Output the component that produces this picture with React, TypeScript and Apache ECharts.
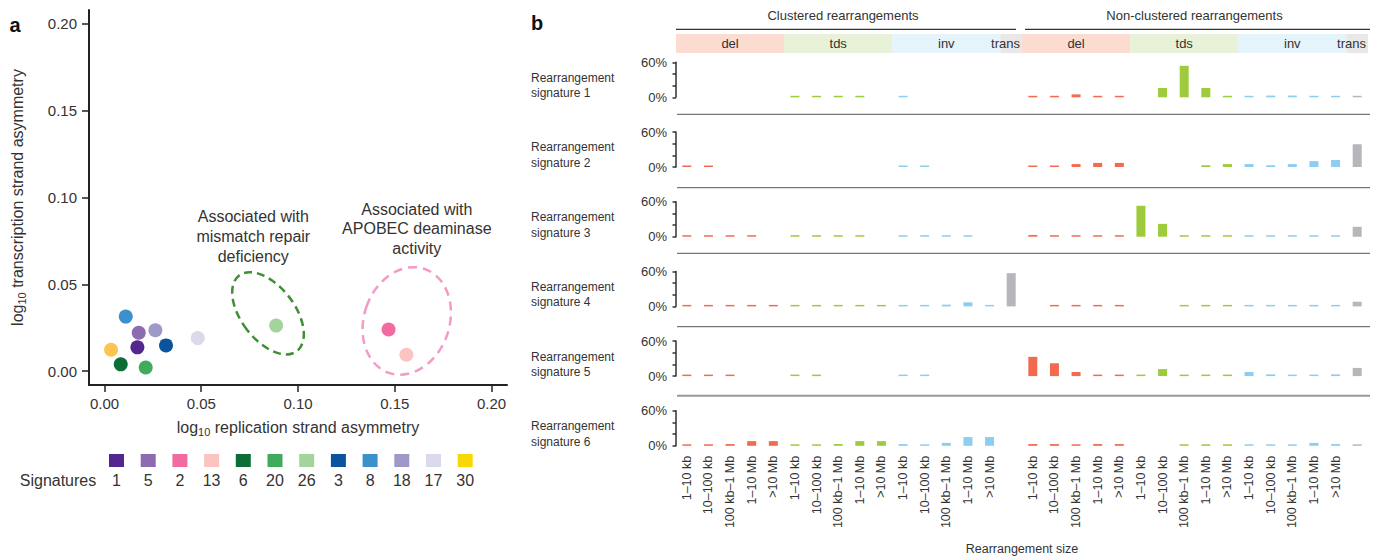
import { useEffect, useRef } from 'react';
import * as echarts from 'echarts';

const FONT = '"Liberation Sans", Arial, Helvetica, sans-serif';
const INK = '#333333';

// ---------------- Panel a: strand asymmetry scatter ----------------
const signatureNames = ['1', '5', '2', '13', '6', '20', '26', '3', '8', '18', '17', '30'];
const signatureColors = ['#54278f', '#8c6bb1', '#f06ba0', '#fbc4c0', '#0c6d36', '#41ab5d', '#a3d49c', '#0b539e', '#3a91cb', '#9e9ac8', '#dadaeb', '#f9d800'];
const pointSignatures = ['8', '5', '18', '30', '1', '3', '6', '20', '17', '26', '2', '13'];
const replicationAsymmetry = [0.011, 0.0177, 0.0263, 0.0034, 0.017, 0.0318, 0.0084, 0.0213, 0.0482, 0.0887, 0.1468, 0.156];
const transcriptionAsymmetry = [0.0314, 0.0221, 0.0235, 0.0123, 0.0137, 0.0148, 0.0039, 0.0021, 0.019, 0.0262, 0.024, 0.0094];
const pointColorOverrides: Record<string, string> = { '30': '#fec44f' };
const asymmetryTicks = [0, 0.05, 0.1, 0.15, 0.2];

const annotationTexts = ['Associated with\nmismatch repair\ndeficiency', 'Associated with\nAPOBEC deaminase\nactivity'];
const annotationAnchorX = [0.0769, 0.1614];
const annotationAnchorY = [0.0776, 0.082];
const ellipseCenterX = [0.0845, 0.1562];
const ellipseCenterY = [0.0333, 0.0289];

// ---------------- Panel b: rearrangement signatures ----------------
const sizeLabels = ['1–10 kb', '10–100 kb', '100 kb–1 Mb', '1–10 Mb', '>10 Mb'];
const classNames = ['del', 'tds', 'inv', 'trans'];
const clusterNames = ['Clustered rearrangements', 'Non-clustered rearrangements'];
const classColors = ['#f26b4f', '#9dcb3c', '#8dcdf0', '#b6b7ba'];
const bandColors = ['#fcdcd0', '#e8f2d8', '#e5f3fb', '#e8e8e8'];
const signatureRowNames = [
  'Rearrangement\nsignature 1',
  'Rearrangement\nsignature 2',
  'Rearrangement\nsignature 3',
  'Rearrangement\nsignature 4',
  'Rearrangement\nsignature 5',
  'Rearrangement\nsignature 6',
];
const percentTicks = [0, 60];

// values in % for 32 categories: clustered del(5) tds(5) inv(5) trans, non-clustered del(5) tds(5) inv(5) trans
const sig1 = [null, null, null, null, null, 1, 1, 1, 1, null, 1, null, null, null, null, null, 1, 1, 5, 1, 1, null, 16, 54, 16, 1, 1, 3, 3, 1, 1, 1];
const sig2 = [1, 1, null, null, null, null, null, null, null, null, 1, 1, null, null, null, null, 1, 1, 5, 7, 7, null, null, null, 3, 5, 5, 3, 5, 10, 12, 39];
const sig3 = [1, 1, 1, 1, null, 1, 1, 1, 1, null, 1, 1, 1, 1, null, null, 3, 1, 1, 1, 1, 53, 22, 1, 1, 1, 2, 1, 1, 1, 2, 17];
const sig4 = [1, 1, 2, 2, 1, 1, 1, 1, 2, 1, 2, 2, 3, 7, 1.5, 57, null, 1, 1, 1, 1, null, null, 1, 1, 1, 1, 1, 1, 1, 1, 8];
const sig5 = [1, 1, 1, null, null, 1, 1, null, null, null, 1, 1, null, null, null, null, 33, 22, 7, 1, 1, 1, 12, 1, 1, 1, 7, 3, 1, 1, 3, 14];
const sig6 = [1, 1, 3, 8, 8, 1, 1, 3, 8, 8, 3, 1, 5, 15, 15, null, 3, 3, 1.5, 3, 3, null, null, 1, 1, 1, 1, 1, 1, 5, 3, 1];
const signatureRows = [sig1, sig2, sig3, sig4, sig5, sig6];

// layout constants (pixels)
const ROW_TOP0 = 62.3;
const ROW_STEP = 69.7;
const ROW_H = 35;
const separatorYs = [114.3, 187.7, 253.3, 326.7, 395.7];

export default function App() {
  const ref = useRef<HTMLDivElement>(null);

  useEffect(() => {
    document.body.style.margin = '0';
    const chart = echarts.init(ref.current!, null, { renderer: 'svg' });

    // categories
    const categoryLabels: string[] = [];
    const categoryClass: number[] = [];
    const categoryCluster: number[] = [];
    for (let c = 0; c < 2; c++) {
      for (let t = 0; t < 3; t++) {
        for (let s = 0; s < sizeLabels.length; s++) {
          categoryLabels.push(sizeLabels[s]);
          categoryClass.push(t);
          categoryCluster.push(c);
        }
      }
      categoryLabels.push('');
      categoryClass.push(3);
      categoryCluster.push(c);
    }
    const categoryKeys = categoryLabels.map((_, i) => String(i));

    // band groups from categories
    const bandGroups: { start: number; end: number; cls: number }[] = [];
    categoryClass.forEach((cls, i) => {
      const last = bandGroups[bandGroups.length - 1];
      if (last && last.cls === cls && categoryCluster[last.start] === categoryCluster[i]) last.end = i;
      else bandGroups.push({ start: i, end: i, cls });
    });
    const clusterGroups = [0, 1].map((c) => {
      const idx = categoryCluster.map((v, i) => (v === c ? i : -1)).filter((i) => i >= 0);
      return [idx[0], idx[idx.length - 1]];
    });

    const richName = {
      n: { fontSize: 16, lineHeight: 20, color: INK, fontFamily: FONT },
      s: { fontSize: 11, lineHeight: 10, verticalAlign: 'bottom', color: INK, fontFamily: FONT },
    };

    const grids: any[] = [{ left: 89, top: 10, width: 418, height: 375 }];
    const xAxes: any[] = [
      {
        gridIndex: 0,
        type: 'value',
        min: -0.008,
        max: 0.208,
        name: '{n|log}{s|10}{n| replication strand asymmetry}',
        nameLocation: 'middle',
        nameGap: 32,
        nameTextStyle: { rich: richName },
        axisLine: { show: true, onZero: false, lineStyle: { color: '#222', width: 2 } },
        axisTick: { show: true, length: 7, customValues: asymmetryTicks, lineStyle: { color: '#222', width: 1.5 } },
        axisLabel: { customValues: asymmetryTicks, formatter: (v: number) => v.toFixed(2), fontSize: 15, color: INK, fontFamily: FONT, margin: 11 },
        splitLine: { show: false },
      },
    ];
    const yAxes: any[] = [
      {
        gridIndex: 0,
        type: 'value',
        min: -0.008,
        max: 0.208,
        name: '{n|log}{s|10}{n| transcription strand asymmetry}',
        nameLocation: 'middle',
        nameRotate: 90,
        nameGap: 62,
        nameTextStyle: { rich: richName },
        axisLine: { show: true, onZero: false, lineStyle: { color: '#222', width: 2 } },
        axisTick: { show: true, length: 7, customValues: asymmetryTicks, lineStyle: { color: '#222', width: 1.5 } },
        axisLabel: { customValues: asymmetryTicks, formatter: (v: number) => v.toFixed(2), fontSize: 15, color: INK, fontFamily: FONT, margin: 12 },
        splitLine: { show: false },
      },
    ];
    const series: any[] = [
      {
        type: 'scatter',
        xAxisIndex: 0,
        yAxisIndex: 0,
        symbolSize: 14,
        data: pointSignatures.map((s, i) => ({
          name: s,
          value: [replicationAsymmetry[i], transcriptionAsymmetry[i]],
          itemStyle: { color: pointColorOverrides[s] || signatureColors[signatureNames.indexOf(s)], opacity: 1 },
        })),
      },
    ];

    signatureRows.forEach((row, k) => {
      const gi = k + 1;
      const isLast = k === signatureRows.length - 1;
      grids.push({ left: 676, top: ROW_TOP0 + ROW_STEP * k, width: 692, height: ROW_H });
      xAxes.push({
        gridIndex: gi,
        type: 'category',
        data: categoryKeys,
        axisLine: { show: false },
        axisTick: { show: false },
        axisLabel: isLast
          ? { show: true, rotate: 90, interval: 0, fontSize: 12.5, color: INK, fontFamily: FONT, margin: 10, formatter: (v: string) => categoryLabels[Number(v)] }
          : { show: false },
        name: isLast ? 'Rearrangement size' : '',
        nameLocation: 'middle',
        nameGap: 97,
        nameTextStyle: { fontSize: 12.5, color: INK, fontFamily: FONT },
      });
      yAxes.push({
        gridIndex: gi,
        type: 'value',
        min: 0,
        max: 60,
        interval: 20,
        axisLine: { show: true, lineStyle: { color: '#333', width: 1.5 } },
        axisTick: { show: true, length: 3.5, lineStyle: { color: '#333', width: 1.5 } },
        axisLabel: {
          fontSize: 13,
          color: INK,
          fontFamily: FONT,
          margin: 9,
          formatter: (v: number) => (percentTicks.includes(v) ? `${v}%` : ''),
        },
        splitLine: { show: false },
      });
      series.push({
        type: 'bar',
        xAxisIndex: gi,
        yAxisIndex: gi,
        barWidth: 9,
        barMinHeight: 1.5,
        data: row.map((v, i) => (v == null ? '-' : { value: v, itemStyle: { color: classColors[categoryClass[i]] } })),
      });
    });

    // header grid (class bands + cluster titles)
    const hg = signatureRows.length + 1;
    grids.push({ left: 676, top: 34, width: 692, height: 19 });
    xAxes.push({ gridIndex: hg, type: 'category', data: categoryKeys, show: false });
    yAxes.push({ gridIndex: hg, type: 'value', min: 0, max: 1, show: false });
    series.push({
      type: 'custom',
      xAxisIndex: hg,
      yAxisIndex: hg,
      silent: true,
      clip: false,
      data: bandGroups.map((b) => [b.start, b.end]),
      renderItem: (params: any, api: any) => {
        const b = bandGroups[params.dataIndex];
        const cs = params.coordSys;
        const bw = api.size([1, 0])[0];
        const s = api.coord([api.value(0), 0]);
        const e = api.coord([api.value(1), 0]);
        const left = s[0] - bw / 2;
        const right = e[0] + bw / 2;
        const isTrans = b.cls === 3;
        return {
          type: 'group',
          children: [
            { type: 'rect', shape: { x: left, y: cs.y, width: right - left, height: cs.height }, style: { fill: bandColors[b.cls] } },
            {
              type: 'text',
              x: isTrans ? right - 2 : (left + right) / 2,
              y: cs.y + cs.height / 2,
              style: {
                text: classNames[b.cls],
                fill: INK,
                fontSize: 13,
                fontFamily: FONT,
                align: isTrans ? 'right' : 'center',
                verticalAlign: 'middle',
                textAlign: isTrans ? 'right' : 'center',
                textVerticalAlign: 'middle',
              },
            },
          ],
        };
      },
    });
    series.push({
      type: 'custom',
      xAxisIndex: hg,
      yAxisIndex: hg,
      silent: true,
      clip: false,
      data: clusterGroups,
      renderItem: (params: any, api: any) => {
        const i = params.dataIndex;
        const cs = params.coordSys;
        const bw = api.size([1, 0])[0];
        const s = api.coord([api.value(0), 0]);
        const e = api.coord([api.value(1), 0]);
        const left = s[0] - bw / 2 + (i === 0 ? 0 : 3);
        const right = e[0] + bw / 2 + (i === 0 ? -6 : 2);
        return {
          type: 'group',
          children: [
            { type: 'line', shape: { x1: left, y1: cs.y - 4.7, x2: right, y2: cs.y - 4.7 }, style: { stroke: '#333', lineWidth: 1.2 } },
            {
              type: 'text',
              x: (left + right) / 2 - 3,
              y: cs.y - 19,
              style: {
                text: clusterNames[i],
                fill: INK,
                fontSize: 13,
                fontFamily: FONT,
                align: 'center',
                verticalAlign: 'middle',
                textAlign: 'center',
                textVerticalAlign: 'middle',
              },
            },
          ],
        };
      },
    });

    chart.setOption({
      animation: false,
      backgroundColor: '#ffffff',
      textStyle: { fontFamily: FONT },
      grid: grids,
      xAxis: xAxes,
      yAxis: yAxes,
      series,
    });

    const txt = (text: string, x: number, y: number, extra: any = {}) => ({
      type: 'text',
      x,
      y,
      silent: true,
      style: {
        text,
        fill: INK,
        fontFamily: FONT,
        fontSize: 16,
        align: 'center',
        verticalAlign: 'middle',
        textAlign: 'center',
        textVerticalAlign: 'middle',
        ...extra,
      },
    });

    const graphics: any[] = [];
    graphics.push(txt('a', 15, 25, { fontSize: 20, fontWeight: 'bold', fill: '#111' }));
    graphics.push(txt('b', 537, 23, { fontSize: 20, fontWeight: 'bold', fill: '#111' }));

    // annotation ellipses + texts
    const ellipseShapes = [
      { rx: 26.7, ry: 47.6, rot: 37.3, color: '#3f8f35', dash: [8, 5] },
      { rx: 42.7, ry: 54.9, rot: -19, color: '#f29bc6', dash: [9, 6] },
    ];
    ellipseShapes.forEach((es, i) => {
      const [px, py] = chart.convertToPixel({ gridIndex: 0 } as any, [ellipseCenterX[i], ellipseCenterY[i]]) as number[];
      graphics.push({
        type: 'ellipse',
        x: px,
        y: py,
        rotation: (es.rot * Math.PI) / 180,
        silent: true,
        shape: { cx: 0, cy: 0, rx: es.rx, ry: es.ry },
        style: { fill: 'none', stroke: es.color, lineWidth: 2.5, lineDash: es.dash },
        z: 5,
      });
      const [tx, ty] = chart.convertToPixel({ gridIndex: 0 } as any, [annotationAnchorX[i], annotationAnchorY[i]]) as number[];
      graphics.push(txt(annotationTexts[i], tx, ty, { lineHeight: 19.7 }));
    });

    // legend
    graphics.push(txt('Signatures', 58, 480));
    signatureNames.forEach((name, i) => {
      const cx = 116.5 + 31.7 * i;
      graphics.push({ type: 'rect', silent: true, shape: { x: cx - 7.5, y: 454, width: 15, height: 13 }, style: { fill: signatureColors[i] } });
      graphics.push(txt(name, cx, 480));
    });

    // row labels
    signatureRowNames.forEach((name, k) => {
      graphics.push(
        txt(name, 531, ROW_TOP0 + ROW_STEP * k + 23.2, { fontSize: 12, lineHeight: 15.6, align: 'left', textAlign: 'left' })
      );
    });

    // row separators
    separatorYs.forEach((y, i) => {
      const last = i === separatorYs.length - 1;
      graphics.push({
        type: 'line',
        silent: true,
        shape: { x1: 677, y1: y, x2: 1370, y2: y },
        style: { stroke: last ? '#999' : '#555', lineWidth: last ? 2 : 1 },
      });
    });

    chart.setOption({ graphic: graphics });

    return () => chart.dispose();
  }, []);

  return <div ref={ref} style={{ width: 1379, height: 558 }} />;
}
